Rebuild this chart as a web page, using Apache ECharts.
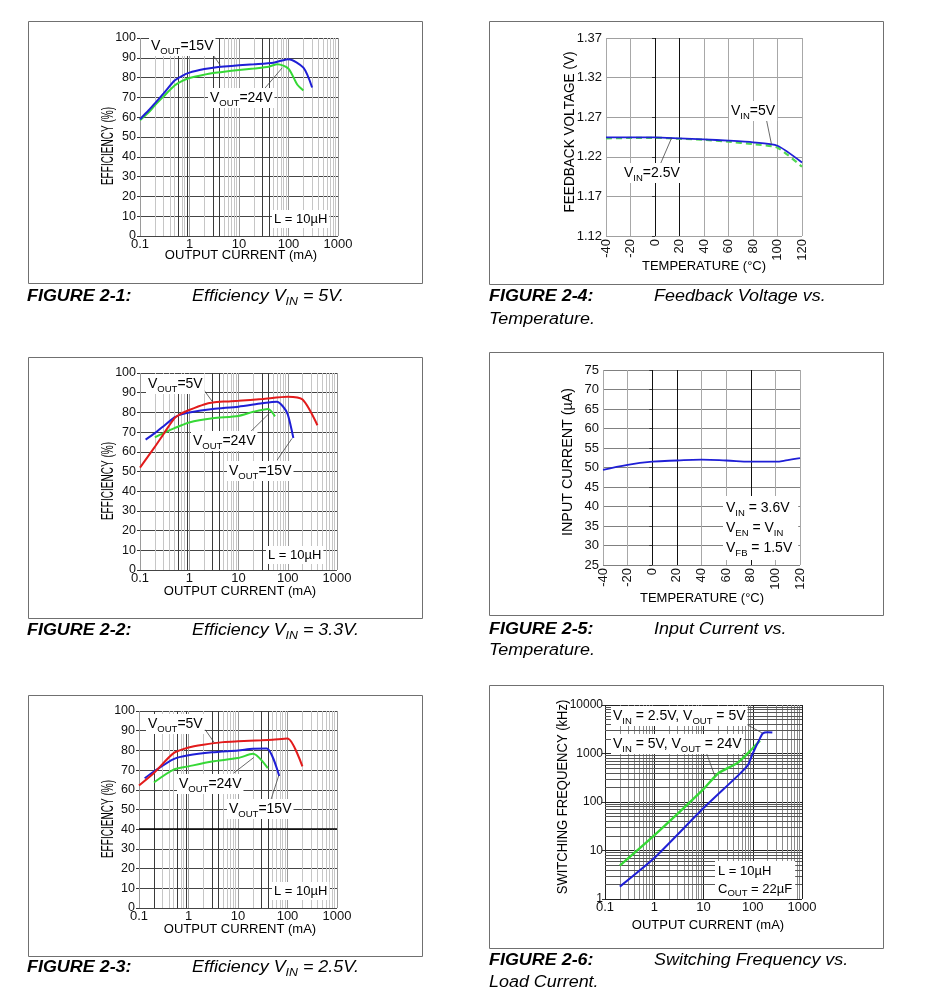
<!DOCTYPE html>
<html><head><meta charset="utf-8">
<script src="https://cdn.jsdelivr.net/npm/echarts@6/dist/echarts.min.js"></script>
<style>html,body{margin:0;padding:0;background:#fff}#c{width:926px;height:1003px}</style>
</head><body><div id="c"></div>
<script>
// ---------------- DATA ----------------
// FIGURE 2-1 : Efficiency, VIN = 5V   (x = output current mA, y = efficiency %)
const f1_15V_x = [0.1,0.15,0.2,0.3,0.5,0.7,1,2,3,5,10,20,50,70,100,200,300];
const f1_15V_y = [59,63.5,67,72,78.5,80.8,82.5,84.3,85,85.6,86.2,86.7,87.5,88.5,89.3,85,75];
const f1_24V_x = [0.1,0.15,0.2,0.3,0.5,0.7,1,2,3,5,10,20,40,60,100,150,200];
const f1_24V_y = [58.5,62.5,66,70.5,76,78.2,79.8,81.5,82.3,83,83.8,84.6,85.5,86.8,84.5,76.5,73.5];
// FIGURE 2-2 : Efficiency, VIN = 3.3V
const f2_5V_x  = [0.1,0.2,0.3,0.5,0.7,1,2,3,5,10,30,100,200,400];
const f2_5V_y  = [52,62.5,69,77,79.5,81.2,84,85,85.5,85.9,86.8,88,86.5,73.5];
const f2_15V_x = [0.13,0.2,0.3,0.5,0.7,1,3,10,30,60,80,100,130];
const f2_15V_y = [66.2,69.5,73,77.5,79,80,81.7,82.9,84.6,85.4,83,79,67];
const f2_24V_x = [0.2,0.3,0.5,1,3,10,20,40,55];
const f2_24V_y = [67.3,69.5,72,74.9,77,78.2,80.3,81.7,78];
// FIGURE 2-3 : Efficiency, VIN = 2.5V
const f3_5V_x  = [0.1,0.2,0.5,1,2,5,10,30,50,100,200];
const f3_5V_y  = [62.2,68.5,78.6,81.5,82.9,84.2,84.6,85.1,85.4,86,71.9];
const f3_15V_x = [0.13,0.2,0.5,1,3,10,20,38,68];
const f3_15V_y = [65.9,69.3,75.6,77.5,79,80,80.8,81,67];
const f3_24V_x = [0.2,0.5,1,3,10,20,40];
const f3_24V_y = [63.7,70.2,71.9,74.4,76.1,78.3,71];
// FIGURE 2-4 : Feedback voltage vs temperature
const f4_temp = [-40,-20,0,20,40,60,80,100,120];
const f4_5V   = [1.2446,1.2446,1.2446,1.2433,1.242,1.2404,1.2383,1.234,1.2129];
const f4_25V  = [1.2433,1.2438,1.244,1.2428,1.2415,1.2391,1.2361,1.2315,1.2074];
// FIGURE 2-5 : Input current vs temperature
const f5_temp = [-40,-20,0,20,40,60,80,100,110,120];
const f5_cur  = [49.4,50.7,51.5,51.8,52.0,51.8,51.5,51.5,51.9,52.4];
// FIGURE 2-6 : Switching frequency vs load current
const f6_a_x = [0.2,1,10,50,80,100,140,160,200,250];      // VIN=2.5V, VOUT=5V
const f6_a_y = [1.8,7,75,350,580,1000,2050,2600,2750,2700];
const f6_b_x = [0.2,1,10,20,50,100,140];                  // VIN=5V, VOUT=24V
const f6_b_y = [4.9,20.5,184,392,650,1282,1845];

// tick label lists
const currentTicks = ['0.1','1','10','100','1000'];
const freqTicks = ['1','10','100','1000','10000'];

// annotation arrow endpoints (data coordinates)
const arrowsP1 = [[[2.8,92.4],[4.2,86.2]], [[33.5,74.7],[75,85]]];
const arrowsP2 = [[[1.98,91.4],[2.92,85.6]], [[17.5,70.2],[42,79.5]], [[60.8,55.8],[122,66.8]]];
const arrowsP3 = [[[2.18,90.5],[3.3,84]], [[8.2,68.5],[20.8,76.4]], [[45,54],[66.7,67.3]]];
const arrowsP4 = [[[91,1.2665],[95,1.2365]], [[4,1.2095],[13.5,1.2436]]];
const arrowsP6 = [[[69,4180],[160,2600]], [[11.5,1012],[17,345]]];

// ---------------- BUILD ----------------
const FONT = '"Liberation Sans", Arial, Helvetica, sans-serif';
const BLUE = '#1f1fd6', GREEN = '#36d836', RED = '#e21b1b';
const zip = (a,b) => a.map((v,i)=>[v,b[i]]);
const minorLog = (lo,hi) => { const o=[]; for(let d=lo; d<hi; d++) for(let k=2;k<=9;k++) o.push(+(k*Math.pow(10,d)).toPrecision(3)); return o; };

const grids = [
  {left:140, top:38,  width:198, height:198},
  {left:140, top:373, width:197, height:197},
  {left:139, top:711, width:198, height:197},
  {left:606, top:38,  width:196, height:198},
  {left:603, top:370, width:197, height:195},
  {left:605, top:705, width:197, height:194}
];

const lbl = (extra) => Object.assign({fontSize:13, color:'#111', fontFamily:FONT}, extra||{});
function logFmt(v){ return v < 1 ? String(+v.toFixed(1)) : String(Math.round(v)); }

function currentAxis(i){
  return {type:'log', logBase:10, min:0.1, max:1000, gridIndex:i,
    axisLine:{show:false}, axisTick:{show:false},
    splitLine:{show:true, lineStyle:{color:'#9a9a9a', width:1}},
    axisLabel:lbl({margin:2, formatter: v => currentTicks.includes(logFmt(v)) ? logFmt(v) : ''})};
}
function tempAxis(i){
  return {type:'value', min:-40, max:120, interval:20, gridIndex:i,
    axisLine:{show:false}, axisTick:{show:false},
    splitLine:{show:true, lineStyle:{color:'#a8a8a8', width:1}},
    axisLabel:lbl({margin:3, rotate:90})};
}
function effAxis(i){
  return {type:'value', min:0, max:100, interval:10, gridIndex:i,
    axisLine:{show:false}, axisTick:{show:true, length:3, lineStyle:{color:'#333'}},
    splitLine:{show:true, lineStyle:{color:'#444', width:1}},
    axisLabel:lbl({margin:4, fontSize:12.5})};
}

const xAxis = [currentAxis(0), currentAxis(1), currentAxis(2), tempAxis(3), tempAxis(4),
  {type:'log', logBase:10, min:0.1, max:1000, gridIndex:5,
    axisLine:{show:false}, axisTick:{show:false},
    splitLine:{show:true, lineStyle:{color:'#222', width:1}},
    axisLabel:lbl({margin:2, formatter: v => currentTicks.includes(logFmt(v)) ? logFmt(v) : ''})}
];
const yAxis = [effAxis(0), effAxis(1), effAxis(2),
  {type:'value', min:1.12, max:1.37, interval:0.05, gridIndex:3,
    axisLine:{show:false}, axisTick:{show:true, length:3, lineStyle:{color:'#333'}},
    splitLine:{show:true, lineStyle:{color:'#a0a0a0'}},
    axisLabel:lbl({margin:4, formatter: v => v.toFixed(2)})},
  {type:'value', min:25, max:75, interval:5, gridIndex:4,
    axisLine:{show:false}, axisTick:{show:true, length:3, lineStyle:{color:'#333'}},
    splitLine:{show:true, lineStyle:{color:'#808080'}},
    axisLabel:lbl({margin:4})},
  {type:'log', logBase:10, min:1, max:10000, gridIndex:5,
    axisLine:{show:false}, axisTick:{show:true, length:3, lineStyle:{color:'#333'}},
    splitLine:{show:true, lineStyle:{color:'#222'}},
    axisLabel:lbl({margin:2, fontSize:12, formatter: v => freqTicks.includes(logFmt(v)) ? logFmt(v) : ''})}
];

const series = [];
function gridLines(i, xs, ys, color, width){
  const data = [];
  (xs||[]).forEach(v => data.push({xAxis:v}));
  (ys||[]).forEach(v => data.push({yAxis:v}));
  series.push({type:'line', xAxisIndex:i, yAxisIndex:i, data:[], z:1, silent:true,
    markLine:{silent:true, z:1, symbol:'none', label:{show:false}, animation:false,
      lineStyle:{color:color, width:width||1, type:'solid'}, data:data}});
}
function curve(i, data, color, extra){
  series.push(Object.assign({type:'line', xAxisIndex:i, yAxisIndex:i, data:data, symbol:'none',
    smooth:0.25, z:3, lineStyle:{color:color, width:2}, silent:true}, extra||{}));
}
function arrows(i, list){
  series.push({type:'line', xAxisIndex:i, yAxisIndex:i, data:[], z:4, silent:true,
    markLine:{silent:true, z:6, symbol:['none','arrow'], symbolSize:[0,7], label:{show:false}, animation:false,
      lineStyle:{color:'#444', width:0.8, type:'solid'},
      data:list.map(p => [{coord:p[0]},{coord:p[1]}])}});
}

const minorX = minorLog(-1,3);
for (let i=0;i<3;i++) {
  gridLines(i, minorX, null, '#c6c6c6', 1);
  gridLines(i, [0.6,0.9,3,4,30,40], null, '#3a3a3a', 1);
}
gridLines(2, [0.2], null, '#3a3a3a', 1);
gridLines(2, null, [40], '#000', 1.6);
gridLines(3, [0,20], null, '#111', 1);
gridLines(4, [0,20,80], null, '#111', 1);
gridLines(5, minorX, null, '#8c8c8c', 1);
gridLines(5, null, minorLog(0,4), '#555', 1);

curve(0, zip(f1_24V_x, f1_24V_y), GREEN);
curve(0, zip(f1_15V_x, f1_15V_y), BLUE);
curve(1, zip(f2_24V_x, f2_24V_y), GREEN);
curve(1, zip(f2_15V_x, f2_15V_y), BLUE);
curve(1, zip(f2_5V_x, f2_5V_y), RED);
curve(2, zip(f3_24V_x, f3_24V_y), GREEN);
curve(2, zip(f3_15V_x, f3_15V_y), BLUE);
curve(2, zip(f3_5V_x, f3_5V_y), RED);
curve(3, zip(f4_temp, f4_25V), '#52d852', {smooth:0.2, lineStyle:{color:'#52d852', width:2.2, type:[6,4]}});
curve(3, zip(f4_temp, f4_5V), BLUE, {smooth:0.2, lineStyle:{color:BLUE, width:1.8}});
curve(4, zip(f5_temp, f5_cur), BLUE, {smooth:0.4, lineStyle:{color:BLUE, width:1.8}});
curve(5, zip(f6_b_x, f6_b_y), GREEN, {smooth:0.2, lineStyle:{color:GREEN, width:2.3}});
curve(5, zip(f6_a_x, f6_a_y), BLUE, {smooth:0.2});

arrows(0, arrowsP1); arrows(1, arrowsP2); arrows(2, arrowsP3); arrows(3, arrowsP4); arrows(5, arrowsP6);

// ---------------- GRAPHIC (frames, titles, annotations) ----------------
const rich = {
  a:{fontSize:14, fontFamily:FONT, color:'#000', lineHeight:20},
  s:{fontSize:9.5, fontFamily:FONT, color:'#000', lineHeight:9, verticalAlign:'bottom'},
  l:{fontSize:13, fontFamily:FONT, color:'#000', lineHeight:18},
  v:{fontSize:15, fontFamily:FONT, color:'#000', lineHeight:18},
  w:{fontSize:14, fontFamily:FONT, color:'#000', lineHeight:18},
  b:{fontSize:16, fontFamily:FONT, color:'#000', fontStyle:'italic', fontWeight:'bold', lineHeight:20},
  i:{fontSize:16, fontFamily:FONT, color:'#000', fontStyle:'italic', lineHeight:20},
  is:{fontSize:11, fontFamily:FONT, color:'#000', fontStyle:'italic', lineHeight:11, verticalAlign:'bottom'}
};
const graphic = [];
function box(x,y,w,h){ graphic.push({type:'rect', z:0, silent:true, shape:{x:x+0.5,y:y+0.5,width:w,height:h}, style:{fill:'none', stroke:'#707070', lineWidth:1}}); }
function txt(x,y,text,opt){
  opt = opt||{};
  graphic.push({type:'text', z:50, silent:true, x:x, y:y, rotation:opt.rot||0, scaleX:opt.sx||1, scaleY:opt.sy||1,
    style:{text:text, rich:rich, align:opt.align||'left', verticalAlign:'middle',
      backgroundColor:opt.bg||null, padding:opt.pad||0, fill:'#000', font:'13px '+FONT}});
}
box(28,21,394,262); box(28,357,394,261); box(28,695,394,261);
box(489,21,394,263); box(489,352,394,263); box(489,685,394,263);

// axis titles
const ytitle = (x,y,t,sx,st,sy) => txt(x,y,'{'+(st||'v')+'|'+t+'}',{rot:Math.PI/2, align:'center', sx:sx, sy:sy});
ytitle(108,146,'EFFICIENCY (%)',0.67,'v',1.12);
ytitle(108,481,'EFFICIENCY (%)',0.67,'v',1.12);
ytitle(108,819,'EFFICIENCY (%)',0.67,'v',1.12);
ytitle(570,132,'FEEDBACK VOLTAGE (V)',0.97,'w');
ytitle(568,462,'INPUT CURRENT (\u00b5A)',1.02,'w');
ytitle(563,797,'SWITCHING FREQUENCY (kHz)',0.93,'w');
txt(241,255,'{l|OUTPUT CURRENT (mA)}',{align:'center'});
txt(240,591,'{l|OUTPUT CURRENT (mA)}',{align:'center'});
txt(240,929,'{l|OUTPUT CURRENT (mA)}',{align:'center'});
txt(704,266,'{l|TEMPERATURE (\u00b0C)}',{align:'center'});
txt(702,598,'{l|TEMPERATURE (\u00b0C)}',{align:'center'});
txt(708,925,'{l|OUTPUT CURRENT (mA)}',{align:'center'});

// annotations
const W = '#fff';
txt(149,46,'{a|V}{s|OUT}{a|=15V}',{bg:W,pad:[0,2]});
txt(208,98,'{a|V}{s|OUT}{a|=24V}',{bg:W,pad:[0,2]});
txt(272,219,'{l|L = 10\u00b5H}',{bg:W,pad:[0,2]});

txt(146,384,'{a|V}{s|OUT}{a|=5V}',{bg:W,pad:[0,2]});
txt(191,441,'{a|V}{s|OUT}{a|=24V}',{bg:W,pad:[0,2]});
txt(227,471,'{a|V}{s|OUT}{a|=15V}',{bg:W,pad:[0,2]});
txt(266,555,'{l|L = 10\u00b5H}',{bg:W,pad:[0,2]});

txt(146,724,'{a|V}{s|OUT}{a|=5V}',{bg:W,pad:[0,2]});
txt(177,784,'{a|V}{s|OUT}{a|=24V}',{bg:W,pad:[0,2]});
txt(227,809,'{a|V}{s|OUT}{a|=15V}',{bg:W,pad:[0,2]});
txt(272,891,'{l|L = 10\u00b5H}',{bg:W,pad:[0,2]});

txt(729,111,'{a|V}{s|IN}{a|=5V}',{bg:W,pad:[0,2]});
txt(622,173,'{a|V}{s|IN}{a|=2.5V}',{bg:W,pad:[0,2]});

txt(723,528,'{a|V}{s|IN}{a| = 3.6V}\n{a|V}{s|EN}{a| = V}{s|IN}\n{a|V}{s|FB}{a| = 1.5V}',{bg:W,pad:[2,6,2,3]});

txt(611,716,'{a|V}{s|IN}{a| = 2.5V, V}{s|OUT}{a| = 5V}',{bg:W,pad:[0,2]});
txt(611,744,'{a|V}{s|IN}{a| = 5V, V}{s|OUT}{a| = 24V}',{bg:W,pad:[0,2]});
txt(715,880,'{l|L = 10\u00b5H}\n{l|C}{s|OUT}{l| = 22\u00b5F}',{bg:W,pad:[1,3,1,3]});

// captions
const cap = (x,y,fig,desc) => { txt(x,y,'{b|'+fig+'}',{sx:1.12}); txt(x===27?192:654,y,desc,{sx:1.12}); };
cap(27,297,'FIGURE 2-1:','{i|Efficiency V}{is|IN}{i| = 5V.}');
cap(27,631,'FIGURE 2-2:','{i|Efficiency V}{is|IN}{i| = 3.3V.}');
cap(27,968,'FIGURE 2-3:','{i|Efficiency V}{is|IN}{i| = 2.5V.}');
cap(489,297,'FIGURE 2-4:','{i|Feedback Voltage vs.}');
txt(489,320,'{i|Temperature.}',{sx:1.12});
cap(489,630,'FIGURE 2-5:','{i|Input Current vs.}');
txt(489,651,'{i|Temperature.}',{sx:1.12});
cap(489,961,'FIGURE 2-6:','{i|Switching Frequency vs.}');
txt(489,983,'{i|Load Current.}',{sx:1.12});

const chart = echarts.init(document.getElementById('c'), null, {renderer:'canvas'});
chart.setOption({
  animation:false,
  backgroundColor:'#fff',
  grid:grids, xAxis:xAxis, yAxis:yAxis, series:series, graphic:graphic
});
</script>
</body></html>
